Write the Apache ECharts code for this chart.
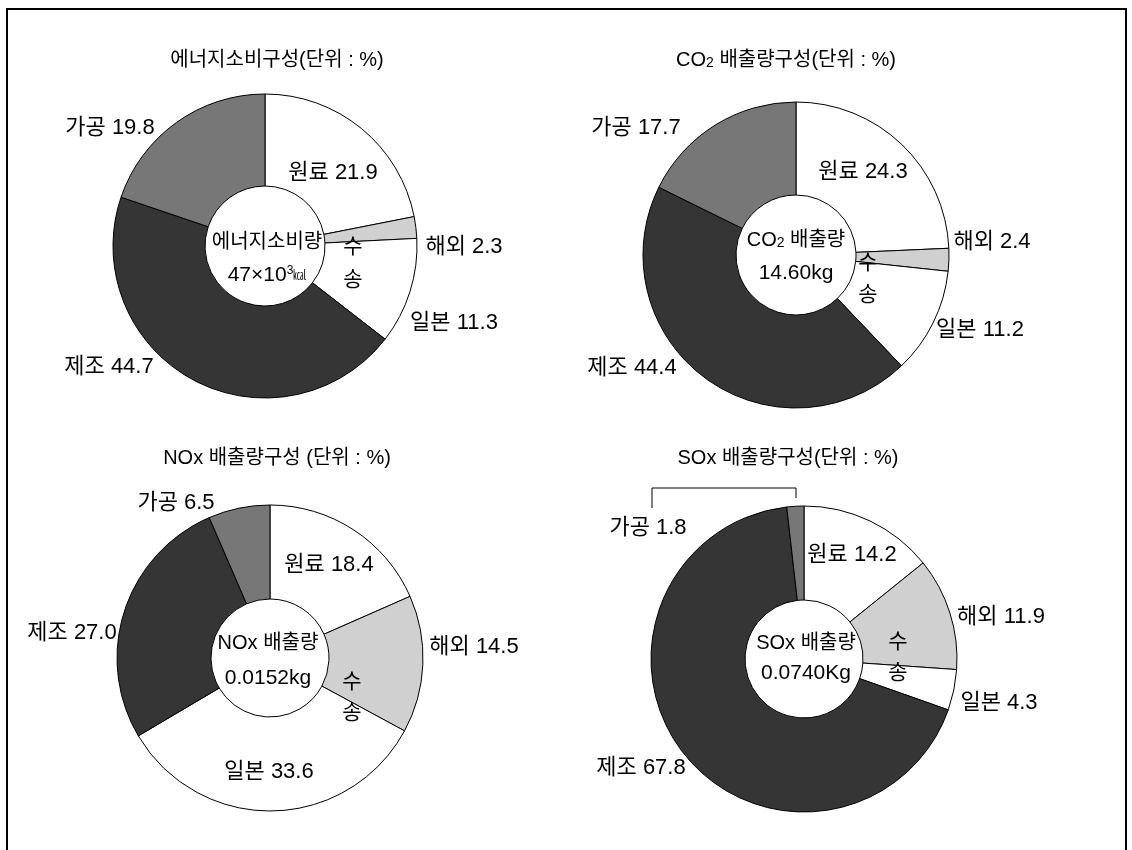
<!DOCTYPE html>
<html>
<head>
<meta charset="utf-8">
<script src="https://cdn.jsdelivr.net/npm/echarts@6/dist/echarts.min.js"></script>
<style>
html,body{margin:0;padding:0;background:#fff;}
#chart{width:1132px;height:850px;}
</style>
</head>
<body>
<div id="chart"></div>
<script>
// 구성 항목 (시계방향, 12시부터)
var categories = ['원료', '해외', '일본', '제조', '가공'];
var energyValues = [21.9, 2.3, 11.3, 44.7, 19.8];
var co2Values = [24.3, 2.4, 11.2, 44.4, 17.7];
var noxValues = [18.4, 14.5, 33.6, 27.0, 6.5];
var soxValues = [14.2, 11.9, 4.3, 67.8, 1.8];

var chartTitles = ['에너지소비구성(단위 : %)', 'CO{sub|2} 배출량구성(단위 : %)', 'NOx 배출량구성 (단위 : %)', 'SOx 배출량구성(단위 : %)'];
var centerNames = ['에너지소비량', 'CO{sub|2} 배출량', 'NOx 배출량', 'SOx 배출량'];
var centerAmounts = ['47×10{sup|3}{unit|㎉}', '14.60kg', '0.0152kg', '0.0740Kg'];
var transportLabel = ['수', '송'];

var allValues = [energyValues, co2Values, noxValues, soxValues];

// 배치
var pieCenters = [[265, 246], [796, 255], [270, 658], [804, 659]];
var pieRadii = [[60, 152], [60, 153], [59, 153], [59, 153]];
var sliceColors = ['#ffffff', '#d0d0d0', '#ffffff', '#353535', '#777777'];
var labelSpots = [
	[[333, 173], [464, 247], [454, 323], [109, 367], [110, 128]],
	[[863, 172], [992, 242], [980, 330], [632, 368], [636, 128]],
	[[329, 565], [474, 647], [269, 772], [72, 633], [176, 503]],
	[[852, 555], [1001, 617], [999, 703], [641, 768], [648, 528]]
];
var titleSpots = [[277, 60], [786, 60], [277, 458], [788, 458]];
var centerTextSpots = [[267, 242, 275], [796, 240, 273], [268, 643, 678], [806, 643, 673]];
var transportSpots = [[353, 247, 280], [868, 263, 295], [352, 682, 713], [898, 642, 673]];

var FONT = "'Liberation Sans Narrow','Liberation Sans','Noto Sans CJK KR',sans-serif";
var richStyles = {
	sub: {fontSize: 14, fontFamily: FONT, fill: '#000', color: '#000', padding: [6, 0, 0, 0]},
	sup: {fontSize: 12, fontFamily: FONT, fill: '#000', color: '#000', padding: [0, 0, 9, 0]},
	unit: {fontSize: 13, fontFamily: FONT, fill: '#000', color: '#000'}
};

var chart = echarts.init(document.getElementById('chart'));

function makeText(txt, x, y, size){
	return {
		type: 'text',
		silent: true,
		z: 100,
		style: {
			text: txt, x: x, y: y,
			fill: '#000',
			fontSize: size, fontFamily: FONT,
			align: 'center', textAlign: 'center',
			verticalAlign: 'middle', textVerticalAlign: 'middle',
			rich: richStyles
		}
	};
}

var series = [];
var graphics = [];

// 바깥 테두리
graphics.push({
	type: 'rect',
	silent: true,
	z: 100,
	shape: {x: 7, y: 9, width: 1119, height: 870},
	style: {fill: 'none', stroke: '#000', lineWidth: 2}
});

for(var i = 0; i < 4; i++){
	(function(si){
		var vals = allValues[si];
		series.push({
			type: 'pie',
			center: pieCenters[si],
			radius: pieRadii[si],
			startAngle: 90,
			clockwise: true,
			silent: true,
			animation: false,
			avoidLabelOverlap: false,
			itemStyle: {borderColor: '#000', borderWidth: 1},
			label: {
				show: true,
				position: 'inside',
				color: '#000',
				fontSize: 22,
				fontFamily: FONT,
				formatter: function(p){ return p.name + ' ' + p.value.toFixed(1); }
			},
			labelLine: {show: false},
			labelLayout: function(p){
				var s = labelSpots[si][p.dataIndex];
				return {x: s[0], y: s[1], align: 'center', verticalAlign: 'middle'};
			},
			data: categories.map(function(c, j){
				return {name: c, value: vals[j], itemStyle: {color: sliceColors[j]}};
			})
		});
		graphics.push(makeText(chartTitles[si], titleSpots[si][0], titleSpots[si][1], 20));
		graphics.push(makeText(centerNames[si], centerTextSpots[si][0], centerTextSpots[si][1], 20));
		graphics.push(makeText(centerAmounts[si], centerTextSpots[si][0], centerTextSpots[si][2], 21));
		graphics.push(makeText(transportLabel[0], transportSpots[si][0], transportSpots[si][1], 21));
		graphics.push(makeText(transportLabel[1], transportSpots[si][0], transportSpots[si][2], 21));
	})(i);
}

// SOx 가공 라벨 연결선
graphics.push({
	type: 'polyline',
	silent: true,
	z: 100,
	shape: {points: [[652, 508], [652, 488], [796, 488], [796, 498]]},
	style: {stroke: '#000', lineWidth: 1, fill: 'none'}
});

chart.setOption({
	backgroundColor: '#fff',
	animation: false,
	series: series,
	graphic: graphics
});
</script>
</body>
</html>
